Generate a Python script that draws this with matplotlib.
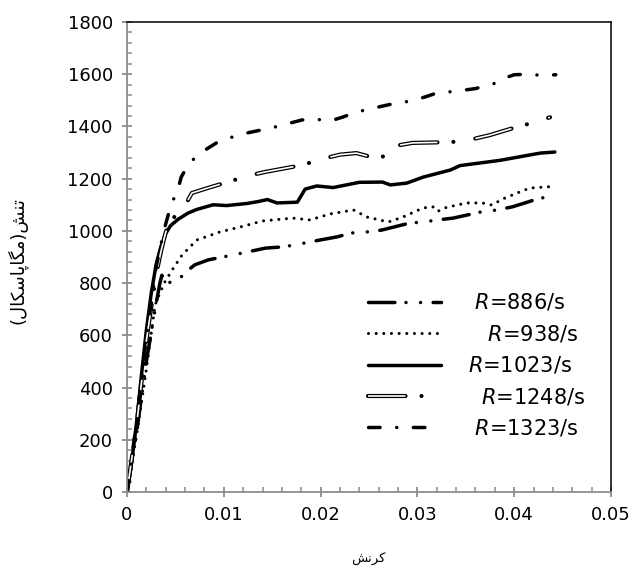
import matplotlib
matplotlib.use("Agg")
import matplotlib.pyplot as plt
from matplotlib.ticker import AutoMinorLocator
from matplotlib.legend_handler import HandlerTuple

plt.rcParams['font.family'] = ['DejaVu Sans']
plt.rcParams['mathtext.fontset'] = 'dejavusans'
plt.rcParams['lines.scale_dashes'] = False

# ---- data (strain, stress MPa) ----
strain_886 = [0, 0.001, 0.002, 0.003, 0.0034, 0.0036, 0.004, 0.005, 0.006, 0.007, 0.0084, 0.0099, 0.0115, 0.0143,
              0.0158, 0.0174, 0.0189, 0.0217, 0.0232, 0.0248, 0.0263, 0.0292, 0.0306, 0.0321, 0.0337, 0.0365,
              0.0382, 0.0398, 0.0411, 0.0427, 0.0440]
stress_886 = [0, 230, 500, 720, 800, 830, 805, 800, 840, 870, 889, 900, 912, 934,
              938, 946, 958, 977, 992, 996, 1003, 1030, 1034, 1042, 1049, 1072,
              1080, 1092, 1107, 1126, 1130]

strain_938 = [0, 0.001, 0.002, 0.0029, 0.0034, 0.0039, 0.0048, 0.0057, 0.0072, 0.0096, 0.0117, 0.014, 0.0171,
              0.0189, 0.021, 0.0234, 0.0248, 0.027, 0.0285, 0.0306, 0.0316, 0.0321, 0.033, 0.0351, 0.0367,
              0.0377, 0.0388, 0.0403, 0.0416, 0.0440]
stress_938 = [0, 220, 470, 716, 762, 804, 858, 908, 965, 996, 1015, 1038, 1049,
              1042, 1065, 1080, 1053, 1034, 1053, 1088, 1092, 1075, 1090, 1107, 1107,
              1099, 1122, 1145, 1164, 1170]

strain_1023 = [0, 0.0005, 0.001, 0.0015, 0.002, 0.0025, 0.003, 0.0035, 0.004, 0.0045, 0.0053, 0.0063, 0.0072,
               0.0089, 0.0103, 0.0124, 0.0135, 0.0145, 0.0155, 0.0176, 0.0184, 0.0196, 0.0213, 0.024, 0.0264,
               0.0272, 0.0289, 0.0306, 0.0334, 0.0344, 0.0385, 0.0427, 0.0442]
stress_1023 = [0, 120, 270, 450, 620, 760, 870, 940, 990, 1020, 1045, 1068, 1082,
               1100, 1097, 1105, 1112, 1120, 1107, 1110, 1160, 1172, 1166, 1186, 1187,
               1176, 1183, 1206, 1233, 1250, 1270, 1298, 1302]

strain_1248 = [0, 0.001, 0.002, 0.003, 0.0035, 0.004, 0.0046, 0.0057, 0.0067, 0.0085, 0.0104, 0.0124, 0.0143,
               0.0181, 0.0201, 0.022, 0.0237, 0.025, 0.0262, 0.027, 0.0276, 0.0295, 0.0334, 0.035, 0.0375,
               0.040, 0.042, 0.0437]
stress_1248 = [0, 260, 580, 830, 920, 995, 1045, 1076, 1145, 1166, 1187, 1210, 1226,
               1252, 1275, 1292, 1298, 1285, 1282, 1292, 1325, 1337, 1340, 1345, 1367,
               1395, 1415, 1435]

strain_1323 = [0, 0.001, 0.002, 0.003, 0.0038, 0.0046, 0.0052, 0.0056, 0.0063, 0.0073, 0.0085, 0.0096, 0.012,
               0.015, 0.0181, 0.0194, 0.021, 0.0223, 0.0237, 0.0251, 0.0264, 0.0279, 0.0293, 0.0308, 0.032,
               0.034, 0.036, 0.038, 0.039, 0.040, 0.0415, 0.043, 0.0443]
stress_1323 = [0, 270, 590, 860, 1000, 1107, 1149, 1206, 1252, 1291, 1320, 1345, 1372,
               1395, 1425, 1428, 1421, 1436, 1455, 1467, 1478, 1490, 1497, 1513, 1528,
               1535, 1545, 1565, 1585, 1598, 1600, 1595, 1598]

labels = [r" $\it{R}$=886/s", r"   $\it{R}$=938/s", r"$\it{R}$=1023/s", r"  $\it{R}$=1248/s", r" $\it{R}$=1323/s"]

xticks = [0, 0.01, 0.02, 0.03, 0.04, 0.05]
xtick_labels = ["0", "0.01", "0.02", "0.03", "0.04", "0.05"]
yticks = [0, 200, 400, 600, 800, 1000, 1200, 1400, 1600, 1800]

# Persian labels (pre-shaped, visual order)
xlabel_fa = "\uFEB6\uFEE7\uFEAE\uFB90"  # کرنش
ylabel_fa = "(" + "\uFEDD\uFE8E\uFB91\uFEB3\uFE8E\uFB58\uFE8E\uFB95\uFEE3" + ")" + "\uFEB6\uFEE8\uFE97"  # تنش(مگاپاسکال)

W, H = 634, 571
fig = plt.figure(figsize=(W/100, H/100), dpi=100)
ax = fig.add_axes([127/W, 1-492/H, 484/W, 470/H])

lw = 2.5
l1, = ax.plot(strain_886, stress_886, color='black', lw=lw, dash_capstyle='round',
              linestyle=(0, (19, 8, 0.01, 10.5, 0.01, 9)))
l2, = ax.plot(strain_938, stress_938, color='black', lw=2.2, dash_capstyle='round',
              linestyle=(0, (0.01, 5.5)))
l3, = ax.plot(strain_1023, stress_1023, color='black', lw=lw, solid_capstyle='round', solid_joinstyle='round')
l4a, = ax.plot(strain_1248, stress_1248, color='black', lw=3.0, dash_capstyle='round',
               linestyle=(0, (27, 11.5, 0.01, 16)))
l4b, = ax.plot(strain_1248, stress_1248, color='white', lw=1.2, dash_capstyle='butt',
               linestyle=(0, (27, 27.51)))
l5, = ax.plot(strain_1323, stress_1323, color='black', lw=lw, dash_capstyle='round',
              linestyle=(0, (8.3, 12, 0.01, 12)))

ax.set_xlim(0, 0.05)
ax.set_ylim(0, 1800)
ax.set_xticks(xticks)
ax.set_xticklabels(xtick_labels)
ax.set_yticks(yticks)
ax.xaxis.set_minor_locator(AutoMinorLocator(5))
ax.yaxis.set_minor_locator(AutoMinorLocator(5))

gray = '#8c8c8c'
for s in ['left', 'bottom']:
    ax.spines[s].set_color(gray)
    ax.spines[s].set_linewidth(1.3)
for s in ['top', 'right']:
    ax.spines[s].set_color('black')
    ax.spines[s].set_linewidth(1.1)
ax.tick_params(which='major', direction='inout', length=6.5, width=1.3, color=gray,
               labelsize=13, labelcolor='black')
ax.tick_params(axis='y', which='major', pad=7)
ax.tick_params(axis='x', which='major', pad=7)
ax.tick_params(which='minor', direction='in', length=3.5, width=1.1, color=gray)

ax.set_xlabel(xlabel_fa, fontsize=9.5)
ax.set_ylabel(ylabel_fa, fontsize=13)
ax.xaxis.set_label_coords((368-127)/484, -(553-492)/470)
ax.yaxis.set_label_coords(-(127-28)/484, (492-261)/470)

leg = ax.legend([l1, l2, l3, (l4a, l4b), l5], labels,
                handler_map={tuple: HandlerTuple(ndivide=1, pad=0)},
                loc='upper left', bbox_to_anchor=((368-127)/484, (492-292)/470),
                frameon=False, fontsize=15, borderpad=0, borderaxespad=0,
                handlelength=3.5, handletextpad=1.3, labelspacing=0.5)

fig.savefig('out.png', dpi=100)
